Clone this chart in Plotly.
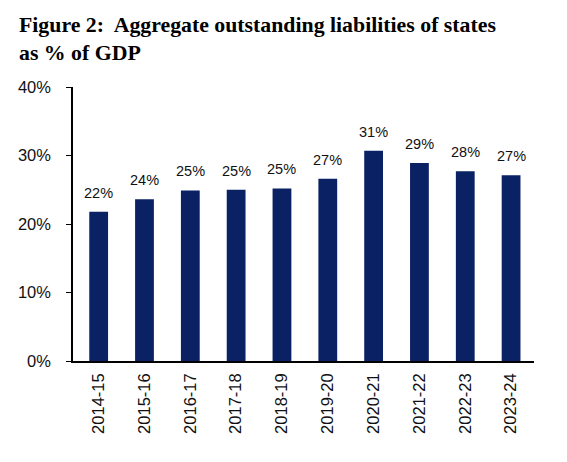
import plotly.graph_objects as go

years = ["2014-15", "2015-16", "2016-17", "2017-18", "2018-19",
         "2019-20", "2020-21", "2021-22", "2022-23", "2023-24"]
liabilities_pct = [21.8, 23.6, 24.9, 25.0, 25.2, 26.6, 30.7, 28.9, 27.7, 27.1]
y_ticks = [0, 10, 20, 30, 40]
y_tick_labels = ["0%", "10%", "20%", "30%", "40%"]
title_text = "Figure 2:  Aggregate outstanding liabilities of states<br>as % of GDP"

BAR = "#0a2163"
SANS = "Liberation Sans, Arial, sans-serif"
W, H = 567, 462
L, R, T, B = 65, 41, 79, 109

fig = go.Figure()
fig.add_trace(go.Bar(
    x=years, y=liabilities_pct,
    marker=dict(color=BAR, line=dict(width=0)),
    hoverinfo="skip",
))

annotations = [
    dict(x=yr, y=v, xref="x", yref="y", text=f"{round(v)}%", showarrow=False,
         yanchor="bottom", yshift=9, font=dict(family=SANS, size=14.5, color="#111111"))
    for yr, v in zip(years, liabilities_pct)
]
annotations.append(dict(
    text=title_text, xref="paper", yref="paper",
    x=(9 - L) / (W - L - R), y=1, xanchor="left", yanchor="top", align="left",
    yshift=T - 3, showarrow=False,
    font=dict(family="Liberation Serif, Times New Roman, serif", size=21.8,
              color="black", weight="bold"),
))

fig.update_layout(
    width=W, height=H,
    margin=dict(l=L, r=R, t=T, b=B, autoexpand=False),
    paper_bgcolor="white", plot_bgcolor="white",
    bargap=0.59,
    showlegend=False,
    annotations=annotations,
    xaxis=dict(
        range=[-0.56, 9.5],
        showline=True, linecolor="black", linewidth=1.5,
        ticks="", tickangle=-90, automargin=False,
        tickfont=dict(family=SANS, size=16.5, color="#111111"),
        ticklabelstandoff=4,
        showgrid=False,
    ),
    yaxis=dict(
        range=[0, 40], tickvals=y_ticks, ticktext=y_tick_labels,
        showline=True, linecolor="black", linewidth=1.5, automargin=False,
        ticks="outside", ticklen=5, tickwidth=1.2, tickcolor="black",
        tickfont=dict(family=SANS, size=16.5, color="#111111"),
        ticklabelstandoff=12,
        showgrid=False, zeroline=False,
    ),
)

fig.write_html("out.html")
